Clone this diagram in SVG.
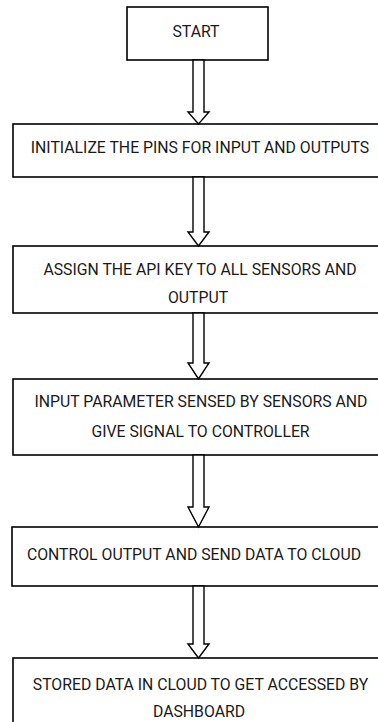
<svg xmlns="http://www.w3.org/2000/svg" width="378" height="722" viewBox="0 0 378 722">
  <style>
    .box { fill: #ffffff; stroke: #000000; stroke-width: 1.6; }
    .arrow { fill: #ffffff; stroke: #000000; stroke-width: 1.4; stroke-linejoin: miter; }
    .label { font-family: Roboto, "Liberation Sans", sans-serif; font-size: 15.8px; fill: #1a1a1a; text-anchor: middle; }
  </style>
  <rect width="378" height="722" fill="#ffffff"/>

  <!-- process steps -->
  <g id="start">
    <rect class="box" x="127" y="7" width="141" height="53"/>
    <text class="label" x="196" y="37">START</text>
  </g>
  <g id="init-pins">
    <rect class="box" x="13" y="124" width="367" height="53"/>
    <text class="label" x="200" y="153">INITIALIZE THE PINS FOR INPUT AND OUTPUTS</text>
  </g>
  <g id="assign-api-key">
    <rect class="box" x="13" y="246" width="367" height="67"/>
    <text class="label" x="200" y="275">ASSIGN THE API KEY TO ALL SENSORS AND</text>
    <text class="label" x="198" y="303">OUTPUT</text>
  </g>
  <g id="input-parameter">
    <rect class="box" x="13" y="379" width="367" height="76"/>
    <text class="label" x="201" y="407">INPUT PARAMETER SENSED BY SENSORS AND</text>
    <text class="label" x="200.5" y="437">GIVE SIGNAL TO CONTROLLER</text>
  </g>
  <g id="control-output">
    <rect class="box" x="12" y="527" width="368" height="59"/>
    <text class="label" x="194" y="560">CONTROL OUTPUT AND SEND DATA TO CLOUD</text>
  </g>
  <g id="store-data">
    <rect class="box" x="13" y="658" width="367" height="80"/>
    <text class="label" x="200.5" y="690">STORED DATA IN CLOUD TO GET ACCESSED BY</text>
    <text class="label" x="199" y="717">DASHBOARD</text>
  </g>

  <!-- hollow block arrows between steps -->
  <g id="connectors">
    <polygon class="arrow" points="193,60 204,60 204,112 209,112 198.5,124 188,112 193,112"/>
    <polygon class="arrow" points="193,177 204,177 204,232 209,232 198.5,246 188,232 193,232"/>
    <polygon class="arrow" points="193,313 204,313 204,363 209,363 198.5,379 188,363 193,363"/>
    <polygon class="arrow" points="193,455 204,455 204,507 209,507 198.5,527 188,507 193,507"/>
    <polygon class="arrow" points="193,586 204,586 204,644 209,644 198.5,658 188,644 193,644"/>
  </g>
</svg>
